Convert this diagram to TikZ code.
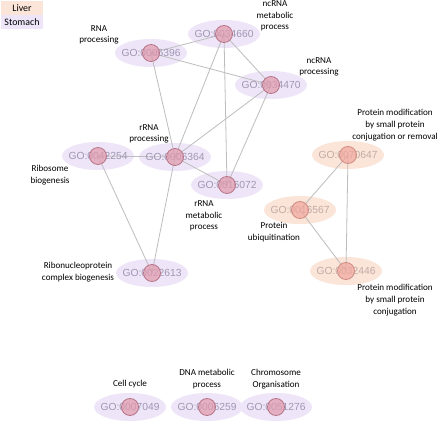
\documentclass[tikz,border=0pt]{standalone}
\usepackage{fontspec}
\setmainfont{Carlito}
\newfontfamily\gofont{Liberation Sans}
\usetikzlibrary{shapes.geometric}
\definecolor{stbg}{HTML}{EEE6F8}
\definecolor{lvbg}{HTML}{FBE4D8}
\definecolor{stdot}{HTML}{E09AAC}
\definecolor{stdotb}{HTML}{B87488}
\definecolor{lvdot}{HTML}{F0A89E}
\definecolor{lvdotb}{HTML}{D08C84}
\definecolor{sttxt}{HTML}{A096B2}
\definecolor{lvtxt}{HTML}{C0AAA4}
\definecolor{edgec}{HTML}{BDBDBD}
\tikzset{
  stell/.style={ellipse, fill=stbg, minimum width=72pt, minimum height=28pt, inner sep=0pt},
  lvell/.style={ellipse, fill=lvbg, minimum width=72pt, minimum height=28pt, inner sep=0pt},
  stlab/.style={text=sttxt, font=\gofont\fontsize{10.3}{12}\selectfont, inner sep=0pt},
  lvlab/.style={text=lvtxt, font=\gofont\fontsize{10.3}{12}\selectfont, inner sep=0pt},
  stdotst/.style={circle, fill=stdot, draw=stdotb, line width=0.8pt, minimum size=17pt, inner sep=0pt, fill opacity=0.72},
  lvdotst/.style={circle, fill=lvdot, draw=lvdotb, line width=0.8pt, minimum size=17pt, inner sep=0pt, fill opacity=0.72},
  lnk/.style={draw=edgec, line width=0.8pt},
  desc/.style={align=center, font=\fontsize{9.1}{11.7}\selectfont, inner sep=0pt},
  legbox/.style={minimum width=42pt, minimum height=14pt, inner sep=0pt, font=\fontsize{9.9}{12}\selectfont},
}
\begin{document}
\begin{tikzpicture}[x=1pt,y=-1pt]
\useasboundingbox[fill=white] (0,0) rectangle (440,422);
% legend
\node[legbox, fill=lvbg] (legL) at (22,8) {Liver};
\node[legbox, fill=stbg] (legS) at (22,22) {Stomach};
% ellipses
\node[stell] (a) at (151,53) {};
\node[stell] (b) at (224,34) {};
\node[stell] (c) at (271,85) {};
\node[stell] (d) at (175,157) {};
\node[stell] (e) at (98,156) {};
\node[stell] (f) at (227,185) {};
\node[stell] (g) at (152,273) {};
\node[lvell] (h) at (348,155) {};
\node[lvell] (i) at (300,210) {};
\node[lvell] (j) at (346,271) {};
\node[stell] (k) at (130,407) {};
\node[stell] (l) at (207,407) {};
\node[stell] (m) at (276,407) {};
% edges
\draw[lnk] (a.center) -- (b.center);
\draw[lnk] (a.center) -- (c.center);
\draw[lnk] (a.center) -- (d.center);
\draw[lnk] (b.center) -- (c.center);
\draw[lnk] (b.center) -- (d.center);
\draw[lnk] (b.center) -- (f.center);
\draw[lnk] (c.center) -- (d.center);
\draw[lnk] (c.center) -- (f.center);
\draw[lnk] (d.center) -- (f.center);
\draw[lnk] (d.center) -- (e.center);
\draw[lnk] (d.center) -- (g.center);
\draw[lnk] (e.center) -- (g.center);
\draw[lnk] (h.center) -- (i.center);
\draw[lnk] (h.center) -- (j.center);
\draw[lnk] (i.center) -- (j.center);
% GO labels
\node[stlab] (ta) at (a) {GO:0006396};
\node[stlab] (tb) at (b) {GO:0034660};
\node[stlab] (tc) at (c) {GO:0034470};
\node[stlab] (td) at (d) {GO:0006364};
\node[stlab] (te) at (e) {GO:0042254};
\node[stlab] (tf) at (f) {GO:0016072};
\node[stlab] (tg) at (g) {GO:0022613};
\node[lvlab] (th) at (h) {GO:0070647};
\node[lvlab] (ti) at (i) {GO:0016567};
\node[lvlab] (tj) at (j) {GO:0032446};
\node[stlab] (tk) at (k) {GO:0007049};
\node[stlab] (tl) at (l) {GO:0006259};
\node[stlab] (tm) at (m) {GO:0051276};
% dots
\foreach \n in {a,b,c,d,e,f,g,k,l,m} \node[stdotst] (dot\n) at (\n) {};
\foreach \n in {h,i,j} \node[lvdotst] (dot\n) at (\n) {};
% descriptions
\node[desc] (la) at (99,35) {RNA\\processing};
\node[desc] (lb) at (275,16) {ncRNA\\metabolic\\process};
\node[desc] (lc) at (319,67) {ncRNA\\processing};
\node[desc] (lh) at (395,125) {Protein modification\\by small protein\\conjugation or removal};
\node[desc] (ld) at (149,134) {rRNA\\processing};
\node[desc] (le) at (50,175) {Ribosome\\biogenesis};
\node[desc] (lf) at (204,216) {rRNA\\metabolic\\process};
\node[desc] (lg) at (78,272) {Ribonucleoprotein\\complex biogenesis};
\node[desc] (li) at (274,232) {Protein\\ubiquitination};
\node[desc] (lj) at (395,300) {Protein modification\\by small protein\\conjugation};
\node[desc] (lk) at (130,384) {Cell cycle};
\node[desc] (ll) at (207,379) {DNA metabolic\\process};
\node[desc] (lm) at (276,379) {Chromosome\\Organisation};
\end{tikzpicture}
\end{document}
